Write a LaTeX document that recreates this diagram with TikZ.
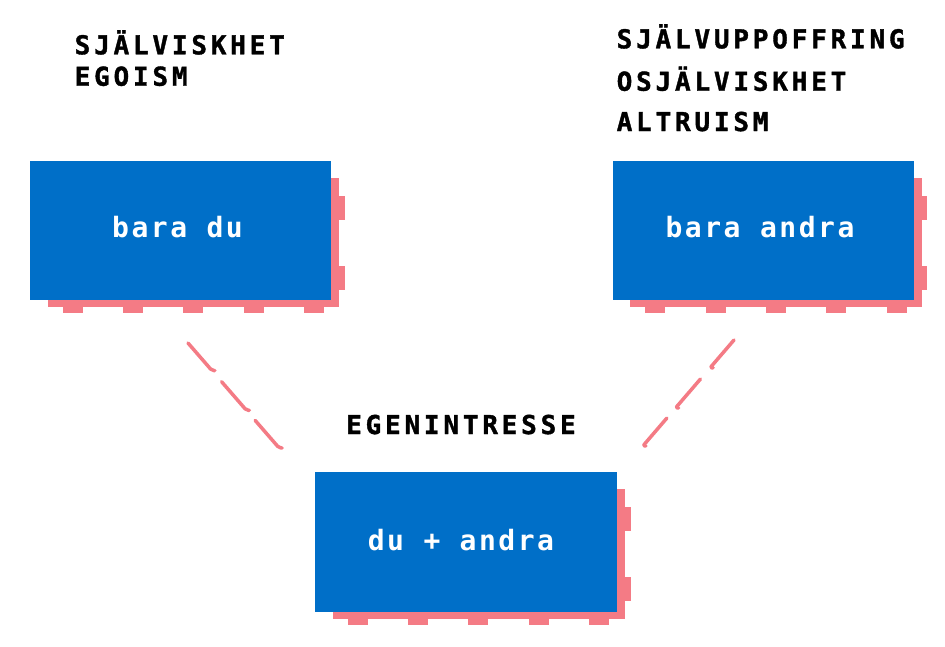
\documentclass[tikz,border=0pt]{standalone}
\usepackage{fontspec}
\usetikzlibrary{calc,backgrounds}
\pgfdeclarelayer{bottom}
\pgfsetlayers{bottom,background,main}
\newfontfamily\hfont{DejaVu Sans Mono Bold}[LetterSpace=14.6, FakeBold=1.4]
\newfontfamily\bfont{DejaVu Sans Mono}[LetterSpace=9]
\definecolor{boxblue}{RGB}{0,111,200}
\definecolor{shpink}{RGB}{244,123,133}
\tikzset{
  bluebox/.style={fill=boxblue, draw=none, inner sep=0, minimum width=301, minimum height=139},
  boxtext/.style={anchor=base, inner sep=0, text=white, font={\bfont\bfseries\fontsize{28}{30}\selectfont}},
  headtext/.style={anchor=base west, inner sep=0, text=black, font={\hfont\fontsize{26}{28}\selectfont}},
  shadowfill/.style={fill=shpink, draw=none},
  dashln/.style={draw=shpink, line width=3.5pt, line cap=round, line join=round, rounded corners=2pt}
}
\newcommand{\pinkshadow}[1]{%
  \begin{scope}[on background layer]
    \fill[shadowfill] ($(#1.north west)+(18,17)$) rectangle ($(#1.south east)+(8,7)$);
    \fill[shadowfill] ($(#1.north east)+(7,35)$) rectangle ($(#1.north east)+(13.5,59)$);
    \fill[shadowfill] ($(#1.north east)+(7,105)$) rectangle ($(#1.north east)+(13.5,129)$);
    \foreach \i in {0,...,4}{
      \fill[shadowfill] ($(#1.south west)+(33+60.3*\i,6)$) rectangle ($(#1.south west)+(53+60.3*\i,12.5)$);
    }
  \end{scope}}
\begin{document}
\begin{tikzpicture}[x=1pt,y=-1pt]
\begin{pgfonlayer}{bottom}
\useasboundingbox[fill=white] (0,0) rectangle (945,646);
\end{pgfonlayer}

% boxes
\node[bluebox] (b1) at (180.5,230.5) {};
\node[bluebox] (b2) at (763,230.5) {};
\node[bluebox, minimum width=302, minimum height=140] (b3) at (466,542) {};
\pinkshadow{b1}
\pinkshadow{b2}
\pinkshadow{b3}

\node[boxtext] (t1) at ($(b1.center)+(-3,6.5)$) {bara du};
\node[boxtext] (t2) at ($(b2.center)+(-3,6.5)$) {bara andra};
\node[boxtext] (t3) at ($(b3.center)+(-5,8.5)$) {du + andra};

% headings
\node[headtext] (h1a) at (74.5,54.3) {SJÄLVISKHET};
\node[headtext] (h1b) at (74.5,85.7) {EGOISM};
\node[headtext] (h2a) at (616.5,48.3) {SJÄLVUPPOFFRING};
\node[headtext] (h2b) at (616.5,90.7) {OSJÄLVISKHET};
\node[headtext] (h2c) at (616.5,131) {ALTRUISM};
\node[headtext] (h3) at (346,434) {EGENINTRESSE};

% dashed connectors
\coordinate (l1) at (188,343);
\coordinate (l2) at (280,449);
\coordinate (r1) at (734,340);
\coordinate (r2) at (642,447);
\foreach \a/\b in {0/0.26, 0.365/0.635, 0.73/0.99}{
  \draw[dashln] ($(l1)!\a!(l2)$) -- ($(l1)!\b!(l2)$) -- ++(3,0);
  \draw[dashln] ($(r1)!\a!(r2)$) -- ($(r1)!\b!(r2)$) -- ++(3,0);
}
\end{tikzpicture}
\end{document}
